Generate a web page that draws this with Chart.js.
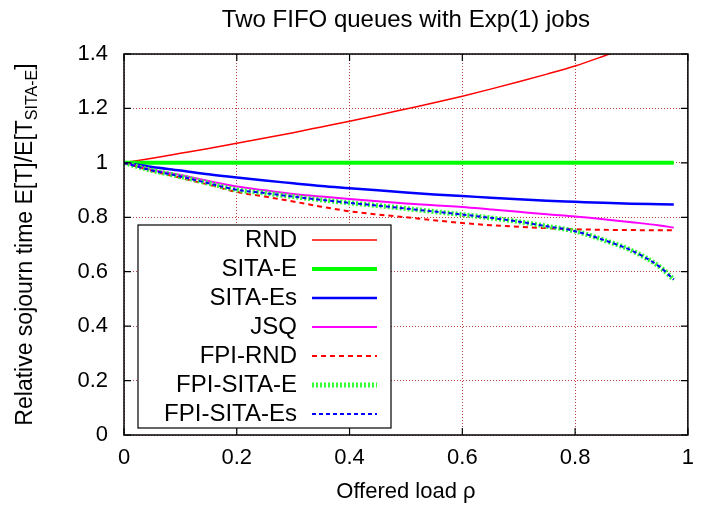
<!DOCTYPE html>
<html>
<head>
<meta charset="utf-8">
<script src="https://cdn.jsdelivr.net/npm/chart.js@4.4.0/dist/chart.umd.min.js"></script>
<style>
  html, body { margin: 0; padding: 0; background: #fff; }
</style>
</head>
<body>
<canvas id="chart" width="704" height="507"></canvas>
<script>
// ─── DATA ───────────────────────────────
const rho = [0, 0.05, 0.1, 0.15, 0.2, 0.25, 0.3, 0.35, 0.4, 0.45, 0.5,
             0.55, 0.6, 0.65, 0.7, 0.75, 0.8, 0.85, 0.9, 0.95, 0.975];

const rnd      = [1.0, 1.017, 1.035, 1.053, 1.072, 1.091, 1.111, 1.132, 1.153, 1.175, 1.198,
                  1.221, 1.245, 1.271, 1.298, 1.326, 1.356, 1.392, 1.43, 1.47, 1.49];
const sitaE    = [1, 1, 1, 1, 1, 1, 1, 1, 1, 1, 1, 1, 1, 1, 1, 1, 1, 1, 1, 1, 1];
const sitaEs   = [1.0, 0.985, 0.972, 0.958, 0.946, 0.935, 0.925, 0.915, 0.907, 0.899, 0.891,
                  0.884, 0.878, 0.872, 0.866, 0.861, 0.857, 0.853, 0.850, 0.848, 0.847];
const jsq      = [1.0, 0.975, 0.955, 0.933, 0.913, 0.899, 0.886, 0.876, 0.867, 0.859, 0.851,
                  0.844, 0.838, 0.829, 0.820, 0.811, 0.803, 0.793, 0.782, 0.770, 0.762];
const fpiRnd   = [1.0, 0.970, 0.945, 0.920, 0.893, 0.876, 0.858, 0.839, 0.822, 0.810, 0.800,
                  0.789, 0.779, 0.771, 0.765, 0.760, 0.756, 0.754, 0.753, 0.752, 0.752];
const fpiSitaE = [1.0, 0.972, 0.950, 0.925, 0.901, 0.889, 0.876, 0.864, 0.853, 0.843, 0.832,
                  0.821, 0.810, 0.798, 0.784, 0.767, 0.749, 0.717, 0.678, 0.618, 0.571];
const fpiSitaEs = [1.0, 0.972, 0.950, 0.925, 0.901, 0.889, 0.876, 0.864, 0.853, 0.843, 0.832,
                   0.821, 0.810, 0.798, 0.784, 0.767, 0.749, 0.717, 0.678, 0.618, 0.571];

const xTicks = [0, 0.2, 0.4, 0.6, 0.8, 1];
const yTicks = [0, 0.2, 0.4, 0.6, 0.8, 1, 1.2, 1.4];

const FONT = 'Liberation Sans, Arial, sans-serif';
const GRID = 'rgba(170,0,0,0.75)';

const pts = arr => rho.map((x, i) => ({ x, y: arr[i] }));
const fmt = v => String(Math.round(v * 10) / 10);

function series(label, data, color, width, dash, idx) {
  return {
    label, data: pts(data),
    borderColor: color, borderWidth: width, borderDash: dash,
    pointRadius: 0, fill: false, cubicInterpolationMode: 'monotone',
    clip: 0, order: 10 - idx
  };
}

// ─── FRAME, TICK MARKS, LEGEND, Y TITLE ─
const gnuplotLook = {
  id: 'gnuplotLook',
  afterDraw(chart) {
    const ctx = chart.ctx;
    const a = chart.chartArea;
    const xs = chart.scales.x, ys = chart.scales.y;
    ctx.save();

    // border
    ctx.strokeStyle = '#000';
    ctx.lineWidth = 1.5;
    ctx.setLineDash([]);
    ctx.strokeRect(a.left, a.top, a.right - a.left, a.bottom - a.top);

    // inward tick marks, mirrored
    ctx.lineWidth = 1.2;
    ctx.beginPath();
    xTicks.forEach(v => {
      const px = xs.getPixelForValue(v);
      ctx.moveTo(px, a.bottom); ctx.lineTo(px, a.bottom - 7);
      ctx.moveTo(px, a.top);    ctx.lineTo(px, a.top + 7);
    });
    yTicks.forEach(v => {
      const py = ys.getPixelForValue(v);
      ctx.moveTo(a.left, py);  ctx.lineTo(a.left + 7, py);
      ctx.moveTo(a.right, py); ctx.lineTo(a.right - 7, py);
    });
    ctx.stroke();

    // legend box
    const bx = a.left + 14, by = 225, bw = 253, bh = 203;
    ctx.fillStyle = '#fff';
    ctx.fillRect(bx, by, bw, bh);
    ctx.strokeStyle = '#000';
    ctx.lineWidth = 1.2;
    ctx.strokeRect(bx, by, bw, bh);

    ctx.font = '24px ' + FONT;
    ctx.textAlign = 'right';
    ctx.textBaseline = 'middle';
    chart.data.datasets.forEach((ds, i) => {
      const y = by + 15 + i * 29;
      ctx.fillStyle = '#000';
      ctx.fillText(ds.label, bx + 159, y);
      ctx.strokeStyle = ds.borderColor;
      ctx.lineWidth = ds.borderWidth;
      ctx.setLineDash(ds.borderDash || []);
      ctx.beginPath();
      ctx.moveTo(bx + 174, y);
      ctx.lineTo(bx + 239, y);
      ctx.stroke();
    });
    ctx.setLineDash([]);

    // y axis title with subscript
    const main = 'Relative sojourn time E[T]/E[T';
    const sub = 'SITA-E';
    const end = ']';
    ctx.fillStyle = '#000';
    ctx.textAlign = 'left';
    ctx.textBaseline = 'alphabetic';
    ctx.font = '23px ' + FONT;
    const wMain = ctx.measureText(main).width;
    const wEnd = ctx.measureText(end).width;
    ctx.font = '16px ' + FONT;
    const wSub = ctx.measureText(sub).width;
    const total = wMain + wSub + wEnd;
    const cy = (a.top + a.bottom) / 2;
    ctx.translate(32, cy);
    ctx.rotate(-Math.PI / 2);
    const x0 = -total / 2;
    ctx.font = '23px ' + FONT;
    ctx.fillText(main, x0, 0);
    ctx.font = '16px ' + FONT;
    ctx.fillText(sub, x0 + wMain, 5);
    ctx.font = '23px ' + FONT;
    ctx.fillText(end, x0 + wMain + wSub, 0);

    ctx.restore();
  }
};

// ─── CHART ──────────────────────────────
new Chart(document.getElementById('chart'), {
  type: 'line',
  data: {
    datasets: [
      series('RND', rnd, '#ff0000', 1.5, [], 0),
      series('SITA-E', sitaE, '#00ff00', 4, [], 1),
      series('SITA-Es', sitaEs, '#0000ff', 2.5, [], 2),
      series('JSQ', jsq, '#ff00ff', 2, [], 3),
      series('FPI-RND', fpiRnd, '#ff0000', 2, [5, 4], 4),
      series('FPI-SITA-E', fpiSitaE, '#33ff33', 5, [2, 2], 5),
      series('FPI-SITA-Es', fpiSitaEs, '#0000ff', 2, [4, 3], 6)
    ]
  },
  options: {
    responsive: false,
    animation: false,
    layout: { padding: { left: 0, right: 9, top: 0, bottom: 0 } },
    plugins: {
      legend: { display: false },
      tooltip: { enabled: false },
      title: {
        display: true,
        fullSize: false,
        text: 'Two FIFO queues with Exp(1) jobs',
        color: '#000',
        font: { family: FONT, size: 24, weight: 'normal' },
        padding: { top: 6, bottom: 19.2 }
      }
    },
    scales: {
      x: {
        type: 'linear', min: 0, max: 1,
        afterBuildTicks: s => { s.ticks = xTicks.map(v => ({ value: v })); },
        afterFit: s => { s.height = 72; },
        grid: { color: GRID, lineWidth: 1, drawTicks: false },
        border: { display: false, dash: [1, 2] },
        ticks: { color: '#000', padding: 10, maxRotation: 0, callback: fmt,
                 font: { family: FONT, size: 22 } },
        title: {
          display: true, text: 'Offered load ρ', color: '#000',
          font: { family: FONT, size: 22 }, padding: { top: 2, bottom: 2 }
        }
      },
      y: {
        type: 'linear', min: 0, max: 1.4,
        afterBuildTicks: s => { s.ticks = yTicks.map(v => ({ value: v })); },
        afterFit: s => { s.width = 124; },
        grid: { color: GRID, lineWidth: 1, drawTicks: false },
        border: { display: false, dash: [1, 2] },
        ticks: { color: '#000', padding: 16, callback: fmt,
                 font: { family: FONT, size: 22 } }
      }
    }
  },
  plugins: [gnuplotLook]
});
</script>
</body>
</html>
